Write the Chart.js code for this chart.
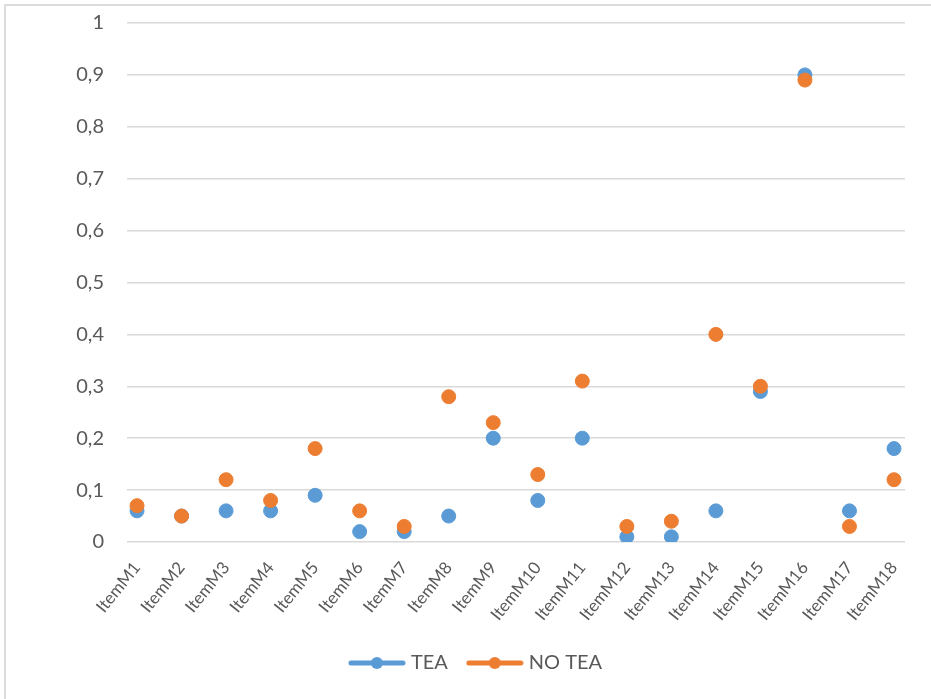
<!DOCTYPE html>
<html>
<head>
<meta charset="utf-8">
<script src="https://cdn.jsdelivr.net/npm/chart.js@4.4.1/dist/chart.umd.min.js"></script>
<style>
  html, body { margin: 0; padding: 0; background: #fff; overflow: hidden; }
  #frame { position: absolute; left: 4px; top: 4px; width: 1000px; height: 1000px;
           border-left: 2px solid #dcdcdc; border-top: 2px solid #dcdcdc; }
  #c { position: absolute; left: 0; top: 0; }
</style>
</head>
<body>
<div id="frame"></div>
<canvas id="c" width="931" height="699"></canvas>
<script>
// Item labels along the bottom axis
const categories = ['ItemM1', 'ItemM2', 'ItemM3', 'ItemM4', 'ItemM5', 'ItemM6', 'ItemM7', 'ItemM8', 'ItemM9',
  'ItemM10', 'ItemM11', 'ItemM12', 'ItemM13', 'ItemM14', 'ItemM15', 'ItemM16', 'ItemM17', 'ItemM18'];

// Share per item, two groups
const teaValues   = [0.06, 0.05, 0.06, 0.06, 0.09, 0.02, 0.02, 0.05, 0.20, 0.08, 0.20, 0.01, 0.01, 0.06, 0.29, 0.90, 0.06, 0.18];
const noTeaValues = [0.07, 0.05, 0.12, 0.08, 0.18, 0.06, 0.03, 0.28, 0.23, 0.13, 0.31, 0.03, 0.04, 0.40, 0.30, 0.89, 0.03, 0.12];

// Vertical axis ticks and their printed labels (decimal comma)
const yTickValues = [0, 0.1, 0.2, 0.3, 0.4, 0.5, 0.6, 0.7, 0.8, 0.9, 1];
const yTickLabels = ['0', '0,1', '0,2', '0,3', '0,4', '0,5', '0,6', '0,7', '0,8', '0,9', '1'];

const seriesNames = ['TEA', 'NO TEA'];
const BLUE = '#5B9BD5';
const ORANGE = '#ED7D31';
const FONT = 'Lato, Carlito, Calibri, sans-serif';

// Legend swatch: short thick line with a dot in the middle
function legendIcon(color) {
  const cv = document.createElement('canvas');
  cv.width = 58; cv.height = 14;
  const g = cv.getContext('2d');
  g.strokeStyle = color;
  g.lineWidth = 5;
  g.lineCap = 'round';
  g.beginPath(); g.moveTo(3, 7); g.lineTo(55, 7); g.stroke();
  g.fillStyle = color;
  g.beginPath(); g.arc(29, 7, 6, 0, Math.PI * 2); g.fill();
  return cv;
}
const icons = [legendIcon(BLUE), legendIcon(ORANGE)];

const toPoints = vals => vals.map((v, i) => ({ x: i, y: v }));

new Chart(document.getElementById('c'), {
  type: 'line',
  data: {
    datasets: [
      { label: seriesNames[0], data: toPoints(teaValues), showLine: false,
        backgroundColor: BLUE, borderColor: BLUE, pointRadius: 7, pointBorderWidth: 1,
        pointBackgroundColor: BLUE, pointBorderColor: BLUE, order: 1 },
      { label: seriesNames[1], data: toPoints(noTeaValues), showLine: false,
        backgroundColor: ORANGE, borderColor: ORANGE, pointRadius: 7, pointBorderWidth: 1,
        pointBackgroundColor: ORANGE, pointBorderColor: ORANGE, order: 0 }
    ]
  },
  options: {
    responsive: false,
    animation: false,
    events: [],
    layout: { autoPadding: false, padding: { left: 50, right: 26, top: 23, bottom: 16 } },
    scales: {
      x: {
        type: 'linear',
        min: -0.225,
        max: 17.247,
        grid: { display: false, drawTicks: false },
        border: { display: false },
        afterBuildTicks: s => { s.ticks = categories.map((_, i) => ({ value: i })); },
        afterFit: s => { s.height = 88; s.paddingTop = 0; s.paddingBottom = 0; s.paddingLeft = 0; s.paddingRight = 0; },
        ticks: {
          autoSkip: false,
          minRotation: 51,
          maxRotation: 51,
          padding: 16,
          color: '#595959',
          font: { family: FONT, size: 17 },
          callback: v => categories[v]
        }
      },
      y: {
        min: 0,
        max: 1,
        grid: { color: '#d9d9d9', lineWidth: 1.5, drawTicks: false },
        border: { display: false },
        afterBuildTicks: s => { s.ticks = yTickValues.map(v => ({ value: v })); },
        afterFit: s => { s.width = 77; s.paddingTop = 0; s.paddingBottom = 0; },
        ticks: {
          padding: 23,
          color: '#595959',
          font: { family: FONT, size: 20 },
          callback: (v, i) => yTickLabels[i]
        }
      }
    },
    plugins: {
      tooltip: { enabled: false },
      legend: {
        position: 'bottom',
        labels: {
          usePointStyle: true,
          pointStyleWidth: 48,
          padding: 23,
          color: '#595959',
          font: { family: FONT, size: 20 },
          sort: (a, b) => a.datasetIndex - b.datasetIndex,
          generateLabels: chart => chart.data.datasets.map((ds, i) => ({
            text: ds.label,
            datasetIndex: i,
            pointStyle: icons[i],
            fillStyle: ds.backgroundColor,
            strokeStyle: ds.borderColor,
            fontColor: '#595959',
            lineWidth: 0,
            hidden: false
          }))
        }
      }
    }
  }
});
</script>
</body>
</html>
